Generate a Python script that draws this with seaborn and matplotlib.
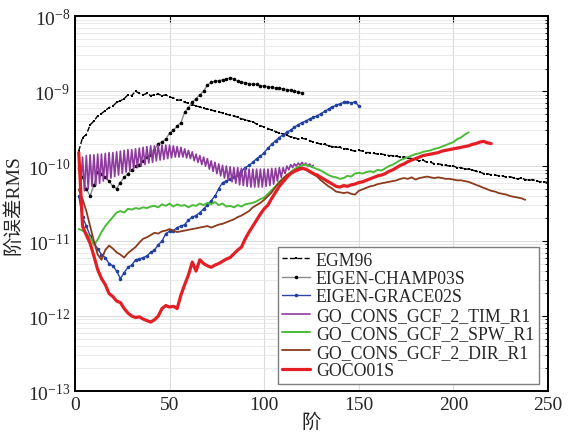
import numpy as np
import pandas as pd
import matplotlib
matplotlib.use("Agg")
import matplotlib.pyplot as plt
import seaborn as sns
from matplotlib.ticker import LogLocator, FixedLocator, NullFormatter

# ---------------- data (log10 of degree-error RMS) ----------------
egm96_deg = list(range(2, 251, 2))
egm96_log = [-9.80, -9.62, -9.58, -9.45, -9.40, -9.33, -9.30, -9.26, -9.22, -9.20,
             -9.15, -9.13, -9.10, -9.05, -9.06, -9.00, -9.03, -9.05, -9.03, -9.06,
             -9.05, -9.04, -9.06, -9.05, -9.08, -9.09, -9.12, -9.12, -9.15, -9.16,
             -9.18, -9.20, -9.21, -9.23, -9.24, -9.25, -9.27, -9.28, -9.29, -9.31,
             -9.32, -9.33, -9.35, -9.37, -9.38, -9.40, -9.41, -9.44, -9.46, -9.48,
             -9.50, -9.52, -9.54, -9.56, -9.57, -9.59, -9.61, -9.62, -9.64, -9.63,
             -9.64, -9.66, -9.68, -9.69, -9.71, -9.71, -9.73, -9.74, -9.75, -9.75,
             -9.77, -9.77, -9.79, -9.80, -9.79, -9.80, -9.82, -9.82, -9.83, -9.84,
             -9.84, -9.85, -9.86, -9.86, -9.87, -9.88, -9.88, -9.89, -9.90, -9.91,
             -9.93, -9.92, -9.95, -9.95, -9.97, -9.97, -9.98, -9.99, -10.00, -10.00,
             -10.02, -10.02, -10.04, -10.04, -10.05, -10.07, -10.08, -10.10, -10.10, -10.12,
             -10.12, -10.13, -10.13, -10.15, -10.14, -10.16, -10.17, -10.16, -10.18, -10.19,
             -10.18, -10.20, -10.21, -10.21, -10.22]

champ_deg = list(range(2, 121, 2))
champ_log = [-10.02, -10.15, -10.30, -10.40, -10.25, -10.08, -10.10, -10.15, -10.20, -10.27,
             -10.30, -10.22, -10.15, -10.10, -10.05, -10.00, -9.98, -9.93, -9.88, -9.85,
             -9.78, -9.70, -9.68, -9.64, -9.56, -9.52, -9.47, -9.42, -9.28, -9.22,
             -9.15, -9.10, -9.05, -9.00, -8.92, -8.88, -8.87, -8.86, -8.85, -8.84,
             -8.82, -8.84, -8.87, -8.88, -8.89, -8.90, -8.91, -8.91, -8.93, -8.93,
             -8.94, -8.95, -8.96, -8.96, -8.97, -8.98, -8.99, -9.00, -9.01, -9.03]

grace_deg = list(range(2, 151, 2))
grace_log = [-10.40, -10.68, -10.80, -10.93, -11.03, -11.10, -11.18, -11.22, -11.30, -11.33,
             -11.40, -11.50, -11.42, -11.35, -11.32, -11.25, -11.24, -11.22, -11.20, -11.15,
             -11.12, -11.05, -11.00, -10.90, -10.87, -10.86, -10.82, -10.80, -10.78, -10.72,
             -10.68, -10.66, -10.62, -10.57, -10.52, -10.46, -10.40, -10.30, -10.22, -10.20,
             -10.17, -10.15, -10.12, -10.07, -10.02, -9.99, -9.95, -9.90, -9.87, -9.82,
             -9.76, -9.71, -9.66, -9.62, -9.58, -9.55, -9.52, -9.48, -9.45, -9.42,
             -9.40, -9.37, -9.35, -9.33, -9.30, -9.27, -9.24, -9.21, -9.19, -9.17,
             -9.15, -9.14, -9.16, -9.14, -9.20]

tim_even_deg = list(range(2, 127, 2))
tim_even_log = [-9.86, -9.88, -9.86, -9.85, -9.85, -9.84, -9.84, -9.83, -9.82, -9.82,
                -9.81, -9.80, -9.79, -9.78, -9.78, -9.77, -9.76, -9.75, -9.74, -9.73,
                -9.73, -9.72, -9.72, -9.72, -9.72, -9.73, -9.74, -9.75, -9.77, -9.79,
                -9.81, -9.84, -9.86, -9.88, -9.90, -9.93, -9.95, -9.97, -9.99, -10.00,
                -10.01, -10.02, -10.02, -10.03, -10.03, -10.04, -10.04, -10.04, -10.04, -10.04,
                -10.04, -10.03, -10.03, -10.02, -10.02, -10.00, -9.98, -9.97, -9.96, -9.95,
                -9.96, -9.97, -9.99]
tim_odd_deg = list(range(3, 126, 2))
tim_odd_log = [-10.25, -10.33, -10.30, -10.27, -10.25, -10.23, -10.20, -10.18, -10.16, -10.14,
               -10.12, -10.10, -10.08, -10.06, -10.04, -10.02, -10.00, -9.98, -9.96, -9.95,
               -9.93, -9.92, -9.91, -9.90, -9.89, -9.88, -9.88, -9.88, -9.89, -9.90,
               -9.93, -9.95, -9.98, -10.00, -10.04, -10.07, -10.10, -10.13, -10.16, -10.19,
               -10.21, -10.23, -10.25, -10.26, -10.27, -10.28, -10.28, -10.28, -10.28, -10.27,
               -10.26, -10.24, -10.20, -10.15, -10.10, -10.05, -10.02, -10.00, -9.99, -9.99,
               -10.00, -10.01]

spw_deg = list(range(2, 209, 2))
spw_log = [-10.84, -10.86, -10.90, -10.95, -11.05, -10.98, -10.88, -10.80, -10.74, -10.68,
           -10.62, -10.60, -10.62, -10.57, -10.58, -10.56, -10.57, -10.55, -10.56, -10.54,
           -10.53, -10.55, -10.51, -10.53, -10.50, -10.54, -10.51, -10.53, -10.52, -10.55,
           -10.52, -10.53, -10.50, -10.52, -10.49, -10.51, -10.48, -10.52, -10.50, -10.54,
           -10.53, -10.55, -10.52, -10.54, -10.51, -10.50, -10.49, -10.47, -10.44, -10.42,
           -10.37, -10.32, -10.27, -10.21, -10.16, -10.12, -10.08, -10.04, -10.01, -9.99,
           -9.98, -10.00, -10.02, -10.04, -10.06, -10.09, -10.12, -10.14, -10.15, -10.17,
           -10.16, -10.13, -10.14, -10.10, -10.09, -10.10, -10.08, -10.07, -10.08, -10.05,
           -10.06, -10.03, -10.00, -9.98, -9.95, -9.92, -9.90, -9.88, -9.86, -9.84,
           -9.83, -9.81, -9.80, -9.79, -9.77, -9.76, -9.74, -9.72, -9.70, -9.68,
           -9.64, -9.62, -9.58, -9.55]

dir_deg = list(range(2, 239, 2))
dir_log = [-10.31, -10.44, -10.60, -10.80, -11.00, -11.18, -11.25, -11.12, -11.06, -11.10,
           -11.15, -11.18, -11.22, -11.16, -11.12, -11.08, -11.02, -10.97, -10.95, -10.92,
           -10.89, -10.90, -10.87, -10.86, -10.84, -10.86, -10.88, -10.87, -10.86, -10.85,
           -10.84, -10.83, -10.82, -10.81, -10.80, -10.82, -10.80, -10.78, -10.77, -10.75,
           -10.73, -10.71, -10.68, -10.66, -10.63, -10.60, -10.55, -10.52, -10.49, -10.45,
           -10.40, -10.35, -10.28, -10.22, -10.17, -10.12, -10.09, -10.06, -10.03, -10.02,
           -10.05, -10.08, -10.11, -10.14, -10.19, -10.23, -10.27, -10.30, -10.34, -10.35,
           -10.36, -10.35, -10.37, -10.38, -10.33, -10.31, -10.29, -10.27, -10.26, -10.24,
           -10.23, -10.22, -10.21, -10.20, -10.19, -10.17, -10.16, -10.17, -10.15, -10.18,
           -10.16, -10.15, -10.14, -10.15, -10.16, -10.15, -10.16, -10.17, -10.17, -10.18,
           -10.19, -10.19, -10.20, -10.21, -10.23, -10.25, -10.27, -10.29, -10.31, -10.33,
           -10.34, -10.36, -10.37, -10.38, -10.40, -10.41, -10.42, -10.43, -10.45]

goco_deg = list(range(2, 221, 2))
goco_log = [-9.82, -10.80, -10.92, -11.03, -11.20, -11.38, -11.50, -11.58, -11.70, -11.74,
            -11.80, -11.82, -11.90, -11.96, -12.00, -12.02, -12.01, -12.04, -12.06, -12.08,
            -12.05, -12.00, -11.90, -11.86, -11.88, -11.87, -11.90, -11.72, -11.58, -11.45,
            -11.28, -11.40, -11.25, -11.30, -11.33, -11.35, -11.32, -11.30, -11.27, -11.24,
            -11.22, -11.17, -11.12, -11.08, -10.97, -10.88, -10.80, -10.72, -10.64, -10.57,
            -10.52, -10.43, -10.35, -10.27, -10.21, -10.15, -10.10, -10.07, -10.05, -10.03,
            -10.04, -10.07, -10.10, -10.12, -10.15, -10.18, -10.21, -10.24, -10.27, -10.28,
            -10.26, -10.27, -10.25, -10.24, -10.22, -10.21, -10.19, -10.17, -10.15, -10.13,
            -10.12, -10.10, -10.07, -10.05, -10.02, -9.99, -9.97, -9.94, -9.92, -9.90,
            -9.88, -9.86, -9.85, -9.84, -9.83, -9.82, -9.80, -9.79, -9.78, -9.77,
            -9.76, -9.75, -9.74, -9.73, -9.71, -9.70, -9.68, -9.67, -9.69, -9.70]

labels = ["EGM96", "EIGEN-CHAMP03S", "EIGEN-GRACE02S", "GO_CONS_GCF_2_TIM_R1",
          "GO_CONS_GCF_2_SPW_R1", "GO_CONS_GCF_2_DIR_R1", "GOCO01S"]
x_ticks = [0, 50, 100, 150, 200, 250]

# ---------------- style ----------------
sns.set_style("white")
plt.rcParams["font.family"] = ["Liberation Serif", "Noto Sans CJK SC"]
plt.rcParams["mathtext.fontset"] = "stix"

fig = plt.figure(figsize=(5.75, 4.39), dpi=100)
ax = fig.add_axes([0.1304, 0.107, 0.8226, 0.854])

def frame(deg, logv):
    return pd.DataFrame({"deg": deg, "val": 10.0 ** np.asarray(logv)})

common = dict(x="deg", y="val", ax=ax, estimator=None, sort=True)

sns.lineplot(data=frame(egm96_deg, egm96_log), color="black", linestyle="--",
             linewidth=1.0, marker="s", markersize=2.0, markeredgewidth=0,
             label=labels[0], **common)
sns.lineplot(data=frame(champ_deg, champ_log), color="#8a8a8a", linewidth=1.0,
             marker="o", markersize=2.6, markerfacecolor="black",
             markeredgecolor="black", markeredgewidth=0, label=labels[1], **common)
sns.lineplot(data=frame(grace_deg, grace_log), color="#2845a8", linewidth=1.0,
             marker="o", markersize=2.6, markerfacecolor="#2040a0",
             markeredgecolor="#2040a0", markeredgewidth=0, label=labels[2], **common)
tim = pd.concat([frame(tim_even_deg, tim_even_log), frame(tim_odd_deg, tim_odd_log)])
sns.lineplot(data=tim, color="#8e3a9e", linewidth=1.2, label=labels[3], **common)
sns.lineplot(data=frame(spw_deg, spw_log), color="#4cbb3a", linewidth=1.4,
             label=labels[4], **common)
sns.lineplot(data=frame(dir_deg, dir_log), color="#8b3a1c", linewidth=1.3,
             label=labels[5], **common)
sns.lineplot(data=frame(goco_deg, goco_log), color="#e31e24", linewidth=2.3,
             label=labels[6], **common)

ax.set_yscale("log")
ax.set_xlim(0, 250)
ax.set_ylim(1e-13, 1e-8)
ax.xaxis.set_major_locator(FixedLocator(x_ticks))
ax.set_xticklabels([str(t) for t in x_ticks])
ax.yaxis.set_major_locator(LogLocator(base=10, numticks=10))
ax.yaxis.set_minor_locator(LogLocator(base=10, subs=np.arange(2, 10), numticks=20))
ax.yaxis.set_minor_formatter(NullFormatter())

ax.grid(True, which="major", color="#dcdcdc", linewidth=0.8)
ax.grid(True, which="minor", axis="y", color="#e6e6e6", linewidth=0.6)
ax.set_axisbelow(True)

ax.tick_params(axis="both", which="both", direction="in", top=True, right=True,
               labelsize=14, color="black")
ax.tick_params(axis="both", which="major", length=4, width=0.8)
ax.tick_params(axis="y", which="minor", length=2, width=0.6)
for s in ax.spines.values():
    s.set_color("black")
    s.set_linewidth(1.4)

ax.set_xlabel("阶", fontsize=14, labelpad=0)
ax.set_ylabel("阶误差RMS", fontsize=14, labelpad=4)

leg = ax.legend(loc="lower right", bbox_to_anchor=(0.98, 0.02), fontsize=12.8,
                frameon=True, fancybox=False, edgecolor="#7f7f7f", framealpha=1,
                labelspacing=0.08, handlelength=1.6, handletextpad=0.3,
                borderpad=0.25, borderaxespad=0.0)
leg.get_frame().set_linewidth(1.0)

fig.savefig("out.png", dpi=100)
